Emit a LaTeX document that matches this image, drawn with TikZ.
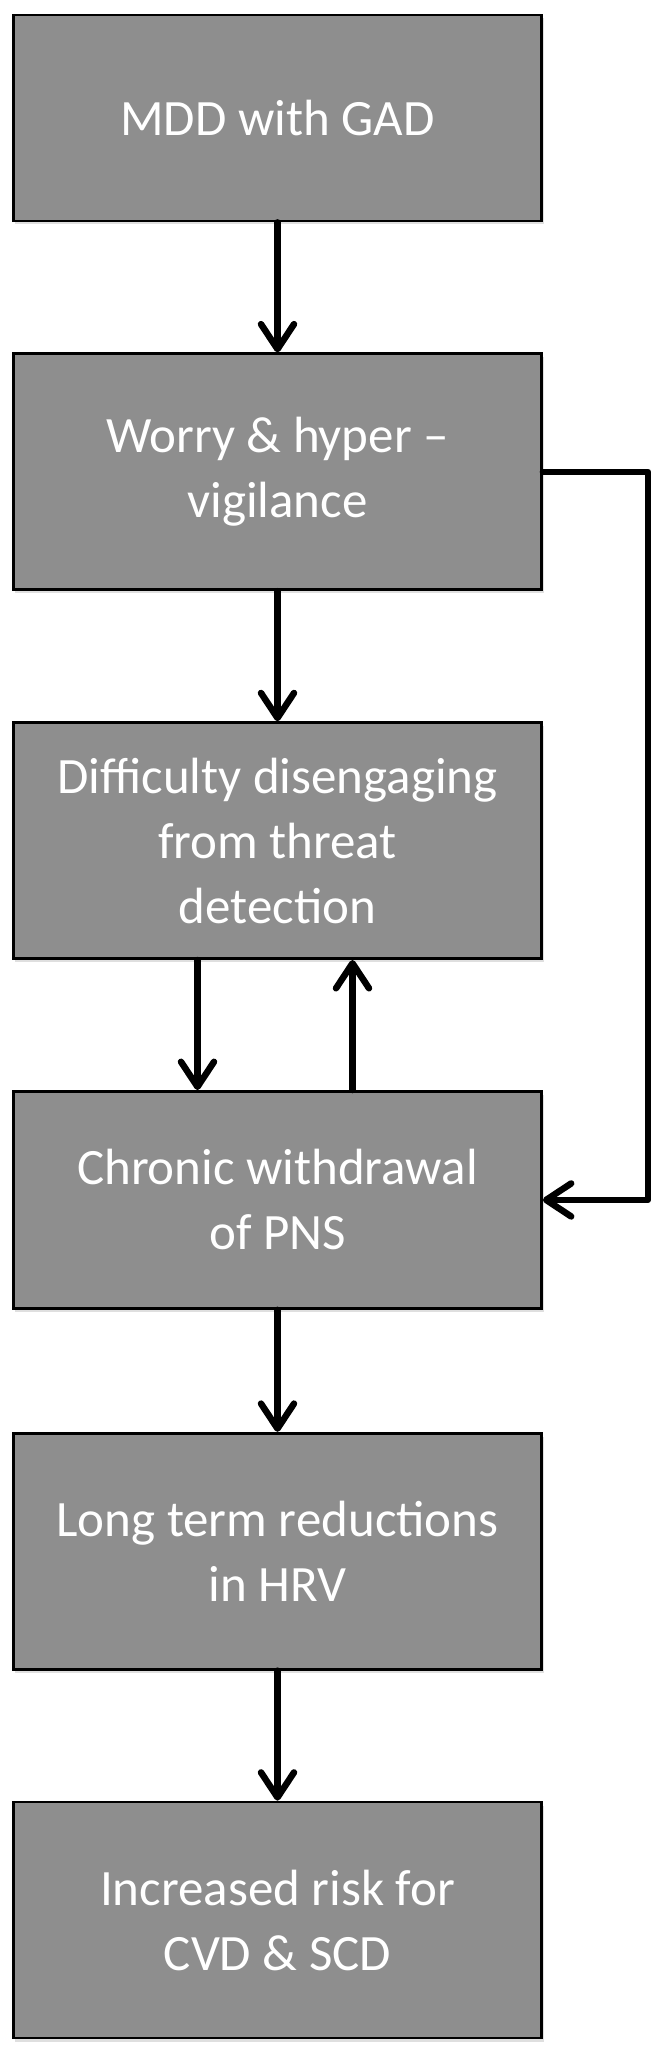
\documentclass[tikz,border=0pt]{standalone}
\usepackage{fontspec}
\setmainfont{Carlito}
\usetikzlibrary{positioning,arrows.meta,shadows}

\definecolor{boxgray}{HTML}{8E8E8E}

\tikzset{
	stage/.style={draw=black, line width=1.6pt, fill=boxgray, text=white,
		minimum width=10.56cm, minimum height=4.72cm, align=center,
		font=\fontsize{29}{37}\selectfont,
		drop shadow={shadow xshift=0.04cm, shadow yshift=-0.07cm, opacity=0.25}},
	flow/.style={line width=3.7pt, line cap=round, line join=round,
		-{Straight Barb[length=0.5cm, width=0.66cm, round]}}
}

\begin{document}
\begin{tikzpicture}[node distance=2.6cm]
		\useasboundingbox (0,0) rectangle (13.28,-41.4);

		\node[stage, minimum height=4.12cm] (mdd) at (5.55,-2.36) {MDD with GAD};
		\node[stage, below=of mdd] (worry) {Worry \& hyper --\\vigilance};
		\node[stage, below=of worry] (difficulty) {Difficulty disengaging\\from threat\\detection};
		\node[stage, below=of difficulty, minimum height=4.34cm] (withdraw) {Chronic withdrawal\\of PNS};
		\node[stage, below=2.44cm of withdraw] (hrv) {Long term reductions\\in HRV};
		\node[stage, below=of hrv] (risk) {Increased risk for\\CVD \& SCD};

		\draw[flow] (mdd) -- (worry);
		\draw[flow] (worry) -- (difficulty);
		\draw[flow] ([xshift=-1.6cm]difficulty.south) -- ([xshift=-1.6cm]withdraw.north);
		\draw[flow] ([xshift=1.5cm]withdraw.north) -- ([xshift=1.5cm]difficulty.south);
		\draw[flow] (withdraw) -- (hrv);
		\draw[flow] (hrv) -- (risk);

		% loop back from worry to withdrawal
		\coordinate (loop) at ([xshift=2.1cm]worry.east);
		\draw[flow] (worry.east) -- (loop) |- (withdraw.east);
	\end{tikzpicture}
\end{document}
